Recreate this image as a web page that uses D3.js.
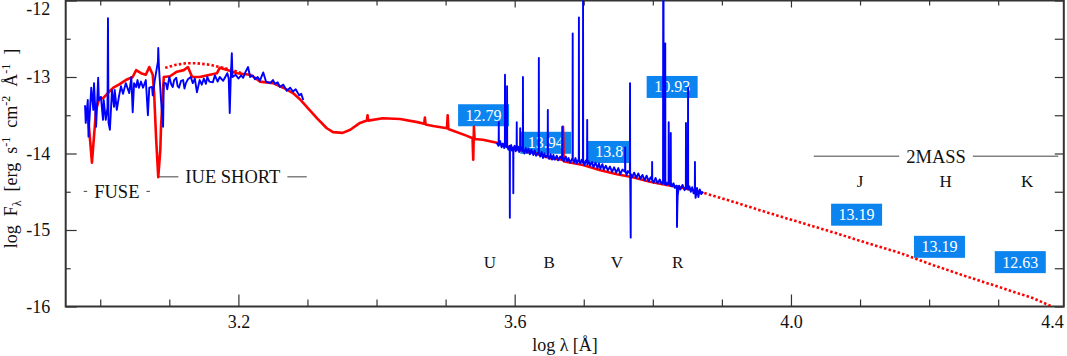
<!DOCTYPE html>
<head>
  <meta charset="utf-8">
  <script src="https://d3js.org/d3.v7.min.js"></script>
  <style>
    body { margin:0; background:#fff; }

    svg text {
      font-family: "Liberation Serif", "Times New Roman", Times, serif;
      fill: #111;
    }

    .axis path { display: none; }
    .axis line { stroke: #333; stroke-width: 1.2; }
    .axis text { font-size: 18px; fill: #111; }

    .frame { fill: none; stroke: #333; stroke-width: 2; }

    .model { fill: none; stroke: #f00; stroke-width: 2.6; stroke-linejoin: round; }
    .model-dots { fill: none; stroke: #f00; stroke-width: 2.6; stroke-dasharray: 2.5,2.2; }
    .obs { fill: none; stroke: #00f; stroke-width: 1.9; stroke-linejoin: round; }

    .mag-box { fill: #0b84f0; }
    .mag-text { fill: #fff; font-size: 16px; }
    .band { font-size: 17px; }
    .span-label { font-size: 18.5px; }
    .span-line { stroke: #444; stroke-width: 1; }
    .ylab { font-size: 18px; white-space: pre; }
    .xlab { font-size: 18px; }
  </style>
</head>

<body>
  <script>
    // ticks
    var xMajorTicks = [3.2, 3.6, 4.0, 4.4];
    var xMinorTicks = [3.0, 3.1, 3.3, 3.4, 3.5, 3.7, 3.8, 3.9, 4.1, 4.2, 4.3];
    var yMajorTicks = [-16, -15, -14, -13, -12];
    var yMinorTicks = [-15.5, -14.5, -13.5, -12.5];

    // model SED (red), [log lambda, log F]
    var modelSolid = [[2.982,-13.47],[2.988,-14.12],[2.994,-13.43],[2.998,-13.30],[3.005,-13.27],[3.012,-13.20],
      [3.019,-13.14],[3.027,-13.10],[3.037,-13.04],[3.047,-13.00],[3.052,-12.91],[3.059,-12.95],[3.066,-12.97],
      [3.071,-12.87],[3.076,-12.97],[3.078,-13.21],[3.081,-13.82],[3.084,-14.31],[3.087,-13.95],[3.088,-13.65],
      [3.092,-13.00],[3.101,-12.99],[3.111,-12.93],[3.121,-12.91],[3.127,-12.87],[3.133,-13.00],[3.144,-13.00],
      [3.159,-12.97],[3.169,-12.95],[3.173,-12.88],[3.184,-12.91],[3.198,-12.95],[3.217,-12.97],[3.224,-13.01],
      [3.231,-13.06],[3.250,-13.08],[3.265,-13.14],[3.279,-13.21],[3.289,-13.29],[3.299,-13.39],[3.314,-13.54],
      [3.328,-13.67],[3.337,-13.72],[3.351,-13.73],[3.362,-13.69],[3.376,-13.60],[3.386,-13.57],[3.387,-13.50],
      [3.388,-13.57],[3.409,-13.54],[3.434,-13.55],[3.459,-13.59],[3.469,-13.61],[3.470,-13.53],[3.471,-13.62],
      [3.482,-13.64],[3.502,-13.67],[3.503,-13.50],[3.504,-13.68],[3.531,-13.77],[3.539,-13.80],[3.540,-14.08],
      [3.541,-13.65],[3.542,-13.81],[3.554,-13.82],[3.574,-13.86],[3.603,-13.95],[3.627,-13.99],[3.651,-14.06],
      [3.669,-14.08],[3.670,-13.65],[3.671,-14.10],[3.676,-14.11],[3.699,-14.15],[3.724,-14.22],[3.748,-14.27],
      [3.771,-14.31],[3.796,-14.37],[3.820,-14.41],[3.844,-14.45],[3.868,-14.50]];

    var modelDottedUV = [[3.094,-12.88],[3.110,-12.84],[3.124,-12.82],[3.139,-12.82],[3.159,-12.84],
      [3.173,-12.87],[3.192,-12.91],[3.205,-12.95]];

    var modelDottedIR = [[3.868,-14.50],[3.916,-14.63],[3.965,-14.77],[4.013,-14.90],[4.061,-15.03],
      [4.110,-15.17],[4.158,-15.30],[4.206,-15.46],[4.255,-15.61],[4.303,-15.75],[4.350,-15.89],[4.378,-16.00]];

    // observed spectra (blue)
    var uvSpectrum = [[2.978,-13.37],[2.979,-13.60],[2.982,-13.30],[2.983,-13.78],[2.987,-13.14],[2.990,-13.43],
      [2.991,-13.08],[2.994,-13.65],[2.997,-13.01],[2.998,-13.30],[3.001,-13.26],[3.004,-13.56],[3.005,-13.30],
      [3.008,-13.56],[3.0105,-13.40],[3.0112,-12.23],[3.0120,-13.60],[3.014,-13.69],[3.017,-13.17],[3.020,-13.39],
      [3.021,-13.17],[3.024,-13.43],[3.027,-13.26],[3.030,-13.12],[3.033,-13.22],[3.037,-13.08],[3.042,-13.21],
      [3.045,-13.00],[3.047,-13.46],[3.049,-13.08],[3.052,-13.13],[3.054,-13.04],[3.056,-13.14],[3.059,-13.06],
      [3.062,-13.14],[3.066,-13.04],[3.069,-13.50],[3.071,-13.14],[3.075,-13.13],[3.076,-13.24],[3.079,-13.04],
      [3.0835,-12.80],[3.0840,-12.62],[3.0850,-12.87],[3.088,-13.30],[3.091,-13.65],[3.092,-13.08],[3.095,-13.08],
      [3.097,-13.16],[3.100,-13.00],[3.103,-13.10],[3.105,-13.13],[3.107,-13.04],[3.110,-13.01],[3.112,-13.12],
      [3.114,-13.14],[3.117,-13.05],[3.120,-13.04],[3.122,-13.15],[3.124,-13.08],[3.127,-13.03],[3.131,-13.00],
      [3.134,-13.08],[3.137,-13.02],[3.140,-13.20],[3.144,-13.04],[3.147,-13.10],[3.150,-13.02],[3.153,-13.09],
      [3.155,-13.00],[3.158,-13.06],[3.163,-13.07],[3.166,-12.98],[3.170,-13.06],[3.173,-13.00],[3.178,-13.05],
      [3.184,-12.95],[3.186,-13.02],[3.1875,-13.47],[3.1890,-13.00],[3.1905,-12.69],[3.1915,-13.00],[3.196,-12.97],
      [3.200,-13.02],[3.204,-12.98],[3.207,-13.01],[3.210,-12.94],[3.214,-12.87],[3.217,-13.00],[3.221,-12.98],
      [3.224,-13.03],[3.228,-13.00],[3.231,-13.05],[3.236,-12.94],[3.240,-13.06],[3.246,-13.08],[3.250,-13.04],
      [3.253,-13.09],[3.257,-13.07],[3.260,-13.13],[3.265,-13.10],[3.270,-13.18],[3.275,-13.14],[3.279,-13.19],
      [3.283,-13.16],[3.288,-13.24],[3.291,-13.22],[3.294,-13.30]];

    var opticalSpectrum = [[3.5740,-13.86],[3.5765,-13.90],[3.5768,-13.88],[3.5770,-13.59],[3.5772,-13.89],
      [3.5790,-13.84],[3.5810,-13.92],[3.5830,-13.87],[3.5850,-13.93],[3.5858,-13.90],[3.5860,-12.97],[3.5862,-13.91],
      [3.5870,-13.86],[3.5888,-13.92],[3.5890,-13.12],[3.5892,-13.90],[3.5910,-13.95],[3.5928,-13.90],[3.5930,-14.84],
      [3.5932,-13.93],[3.5950,-13.89],[3.5960,-13.96],[3.5978,-13.92],[3.5980,-14.52],[3.5982,-13.94],[3.6000,-13.90],
      [3.6015,-13.97],[3.6028,-13.93],[3.6030,-13.59],[3.6032,-13.95],[3.6050,-13.91],[3.6065,-13.98],[3.6078,-13.94],
      [3.6080,-13.67],[3.6082,-13.96],[3.6100,-13.92],[3.6118,-13.97],[3.6120,-13.00],[3.6122,-13.95],[3.6140,-14.00],
      [3.6160,-13.93],[3.6180,-13.99],[3.6200,-13.94],[3.6220,-14.01],[3.6240,-13.95],[3.6270,-14.02],[3.6290,-13.96],
      [3.6310,-14.03],[3.6348,-13.98],[3.6350,-12.75],[3.6352,-14.00],[3.6370,-14.04],[3.6390,-13.98],[3.6410,-14.06],
      [3.6430,-14.00],[3.6450,-14.05],[3.6478,-14.01],[3.6480,-13.43],[3.6482,-14.03],[3.6500,-14.07],[3.6520,-14.01],
      [3.6540,-14.08],[3.6560,-14.02],[3.6580,-14.08],[3.6610,-14.03],[3.6630,-14.09],[3.6660,-14.04],[3.6688,-14.08],
      [3.6690,-13.65],[3.6692,-14.05],[3.6710,-14.10],[3.6740,-14.04],[3.6760,-14.10],[3.6780,-14.06],[3.6800,-14.12],
      [3.6838,-14.06],[3.6840,-12.43],[3.6842,-14.08],[3.6860,-14.12],[3.6880,-14.06],[3.6900,-14.13],[3.6928,-14.07],
      [3.6930,-12.22],[3.6932,-14.09],[3.6950,-14.13],[3.6970,-14.08],[3.6988,-14.12],[3.6990,-11.90],[3.6992,-14.10],
      [3.7010,-14.15],[3.7030,-14.09],[3.7048,-14.12],[3.7050,-13.56],[3.7052,-14.14],[3.7070,-14.10],[3.7090,-14.16],
      [3.7120,-14.11],[3.7140,-14.18],[3.7170,-14.12],[3.7200,-14.19],[3.7220,-14.13],[3.7240,-14.20],[3.7270,-14.14],
      [3.7290,-14.21],[3.7320,-14.16],[3.7350,-14.22],[3.7380,-14.17],[3.7410,-14.24],[3.7440,-14.18],[3.7470,-14.25],
      [3.7500,-14.19],[3.7530,-14.27],[3.7560,-14.21],[3.7598,-14.24],[3.7600,-13.92],[3.7602,-14.22],[3.7620,-14.28],
      [3.7640,-14.23],[3.7668,-14.26],[3.7670,-13.08],[3.7672,-14.26],[3.7680,-15.10],[3.7682,-14.27],[3.7700,-14.31],
      [3.7730,-14.25],[3.7760,-14.32],[3.7790,-14.26],[3.7820,-14.33],[3.7850,-14.28],[3.7880,-14.35],[3.7910,-14.29],
      [3.7940,-14.36],[3.7970,-14.31],[3.7988,-14.34],[3.7990,-14.11],[3.7992,-14.35],[3.8010,-14.38],[3.8040,-14.32],
      [3.8070,-14.39],[3.8100,-14.34],[3.8130,-14.40],[3.8148,-14.36],[3.8150,-11.90],[3.8155,-11.90],[3.8158,-14.38],
      [3.8178,-14.40],[3.8180,-12.56],[3.8182,-14.36],[3.8200,-14.41],[3.8228,-14.37],[3.8230,-13.59],[3.8232,-14.40],
      [3.8258,-14.42],[3.8260,-13.73],[3.8262,-14.38],[3.8280,-14.43],[3.8300,-14.39],[3.8320,-14.45],[3.8348,-14.42],
      [3.8350,-14.96],[3.8355,-14.70],[3.8360,-14.55],[3.8380,-14.42],[3.8400,-14.47],[3.8430,-14.41],[3.8460,-14.48],
      [3.8478,-14.44],[3.8480,-13.60],[3.8482,-14.46],[3.8508,-14.42],[3.8510,-13.14],[3.8512,-14.47],[3.8530,-14.43],
      [3.8550,-14.50],[3.8570,-14.44],[3.8590,-14.52],[3.8608,-14.46],[3.8610,-14.11],[3.8612,-14.50],[3.8620,-14.58],
      [3.8640,-14.45],[3.8660,-14.57],[3.8680,-14.47],[3.8700,-14.53],[3.8730,-14.50]];

    // photometry boxes
    var magLabels = ["12.79", "13.94", "13.8", "10.93", "13.19", "13.19", "12.63"];
    var magLambda = [3.555, 3.645, 3.737, 3.828, 4.095, 4.215, 4.332];
    var magLevel  = [-13.50, -13.86, -13.98, -13.13, -14.80, -15.22, -15.42];

    // filter names
    var bandNames  = ["U", "B", "V", "R", "J", "H", "K"];
    var bandLambda = [3.564, 3.650, 3.748, 3.836, 4.100, 4.224, 4.342];
    var bandLevel  = [-15.50, -15.50, -15.50, -15.50, -14.44, -14.44, -14.44];

    // instrument ranges
    var spanNames = ["FUSE", "IUE SHORT", "2MASS"];
    var spanFrom  = [2.976, 3.085, 4.033];
    var spanTo    = [3.072, 3.299, 4.387];
    var spanLevel = [-14.58, -14.39, -14.12];

    var W = 1067, H = 356;
    var plot = {left: 65.7, right: 1063.8, top: 0.5, bottom: 306.5};

    var svg = d3.select("body").append("svg")
        .attr("width", W)
        .attr("height", H)
        .attr("font-family", "Liberation Serif, serif");

    var x = d3.scaleLinear().domain([2.95, 4.395]).range([plot.left, plot.right]);
    var y = d3.scaleLinear().domain([-16, -12]).range([plot.bottom, plot.top]);

    svg.append("defs").append("clipPath")
      .attr("id", "clip")
      .append("rect")
      .attr("x", plot.left).attr("y", plot.top)
      .attr("width", plot.right - plot.left)
      .attr("height", plot.bottom - plot.top);

    var inX = xMajorTicks.filter(d => x(d) <= plot.right);

    // bottom
    svg.append("g").attr("class", "axis")
      .attr("transform", "translate(0," + plot.bottom + ")")
      .call(d3.axisBottom(x).tickValues(xMinorTicks).tickSize(-7).tickFormat(""));
    svg.append("g").attr("class", "axis")
      .attr("transform", "translate(0," + plot.bottom + ")")
      .call(d3.axisBottom(x).tickValues(inX).tickSize(-12).tickPadding(9).tickFormat(d3.format(".1f")));
    // tick labels past the right edge get pulled inside
    svg.append("g").attr("class", "axis")
      .selectAll("text")
      .data(xMajorTicks.filter(d => x(d) > plot.right))
      .enter().append("text")
        .attr("x", plot.right)
        .attr("y", plot.bottom + 9)
        .attr("dy", "0.71em")
        .attr("text-anchor", "end")
        .text(d3.format(".1f"));

    // top
    svg.append("g").attr("class", "axis")
      .attr("transform", "translate(0," + plot.top + ")")
      .call(d3.axisTop(x).tickValues(xMinorTicks).tickSize(-5).tickFormat(""));
    svg.append("g").attr("class", "axis")
      .attr("transform", "translate(0," + plot.top + ")")
      .call(d3.axisTop(x).tickValues(inX).tickSize(-7).tickFormat(""));

    // left
    svg.append("g").attr("class", "axis")
      .attr("transform", "translate(" + plot.left + ",0)")
      .call(d3.axisLeft(y).tickValues(yMinorTicks).tickSize(-5).tickFormat(""));
    var yAx = svg.append("g").attr("class", "axis")
      .attr("transform", "translate(" + plot.left + ",0)")
      .call(d3.axisLeft(y).tickValues(yMajorTicks).tickSize(-11).tickPadding(15.5).tickFormat(d => String(d)));
    yAx.selectAll(".tick text").filter(d => d === y.domain()[1]).attr("dy", "0.76em");

    // right
    svg.append("g").attr("class", "axis")
      .attr("transform", "translate(" + plot.right + ",0)")
      .call(d3.axisRight(y).tickValues(yMajorTicks.concat(yMinorTicks)).tickSize(-9).tickFormat(""));

    svg.selectAll(".axis").attr("font-family", null);

    svg.append("rect").attr("class", "frame")
      .attr("x", plot.left).attr("y", plot.top)
      .attr("width", plot.right - plot.left)
      .attr("height", plot.bottom - plot.top);

    // photometry boxes (under spectra)
    var mags = svg.append("g").selectAll("g")
      .data(magLabels)
      .enter().append("g")
        .attr("transform", (d, i) => "translate(" + x(magLambda[i]) + "," + y(magLevel[i]) + ")");
    mags.append("rect").attr("class", "mag-box");
    mags.append("text").attr("class", "mag-text")
      .attr("text-anchor", "middle")
      .attr("dy", "0.34em")
      .text(d => d);
    mags.each(function() {
      var g = d3.select(this);
      var w = g.select("text").node().getComputedTextLength() + 15;
      g.select("rect").attr("x", -w / 2).attr("y", -11).attr("width", w).attr("height", 22);
    });

    var line = d3.line()
      .x(d => x(d[0]))
      .y(d => y(d[1]));

    var curves = svg.append("g").attr("clip-path", "url(#clip)");
    curves.append("path").attr("class", "model").attr("d", line(modelSolid));
    curves.append("path").attr("class", "model-dots").attr("d", line(modelDottedUV));
    curves.append("path").attr("class", "model-dots").attr("d", line(modelDottedIR));
    curves.append("path").attr("class", "obs").attr("d", line(uvSpectrum));
    curves.append("path").attr("class", "obs").attr("d", line(opticalSpectrum));

    // filter names
    svg.append("g").selectAll("text")
      .data(bandNames)
      .enter().append("text")
        .attr("class", "band")
        .attr("text-anchor", "middle")
        .attr("x", (d, i) => x(bandLambda[i]))
        .attr("y", (d, i) => y(bandLevel[i]))
        .text(d => d);

    // instrument ranges
    var spans = svg.append("g").selectAll("g")
      .data(spanNames)
      .enter().append("g");
    spans.append("text")
      .attr("class", "span-label")
      .attr("text-anchor", "middle")
      .attr("x", (d, i) => x((spanFrom[i] + spanTo[i]) / 2))
      .attr("y", (d, i) => y(spanLevel[i]))
      .text(d => d);
    spans.each(function(d, i) {
      var g = d3.select(this);
      var t = g.select("text").node().getComputedTextLength();
      var cx = x((spanFrom[i] + spanTo[i]) / 2), ly = y(spanLevel[i]) - 6.5;
      g.append("line").attr("class", "span-line")
        .attr("x1", x(spanFrom[i])).attr("x2", cx - t / 2 - 7)
        .attr("y1", ly).attr("y2", ly);
      g.append("line").attr("class", "span-line")
        .attr("x1", cx + t / 2 + 7).attr("x2", x(spanTo[i]))
        .attr("y1", ly).attr("y2", ly);
    });

    // axis titles
    svg.append("text").attr("class", "xlab")
      .attr("x", 565).attr("y", 351)
      .attr("text-anchor", "middle")
      .text("log \u03bb [\u00c5]");

    var yl = svg.append("text").attr("class", "ylab")
      .attr("transform", "translate(17,148.5) rotate(-90)")
      .attr("text-anchor", "middle");
    yl.append("tspan").text("log  F");
    yl.append("tspan").attr("font-size", "12px").attr("dy", 4).text("\u03bb");
    yl.append("tspan").attr("dy", -4).text("  [erg  s");
    yl.append("tspan").attr("font-size", "12px").attr("dy", -7).text("-1");
    yl.append("tspan").attr("dy", 7).text("  cm");
    yl.append("tspan").attr("font-size", "12px").attr("dy", -7).text("-2");
    yl.append("tspan").attr("dy", 7).text("  \u00c5");
    yl.append("tspan").attr("font-size", "12px").attr("dy", -7).text("-1");
    yl.append("tspan").attr("dy", 7).text("  ]");
  </script>
</body>
